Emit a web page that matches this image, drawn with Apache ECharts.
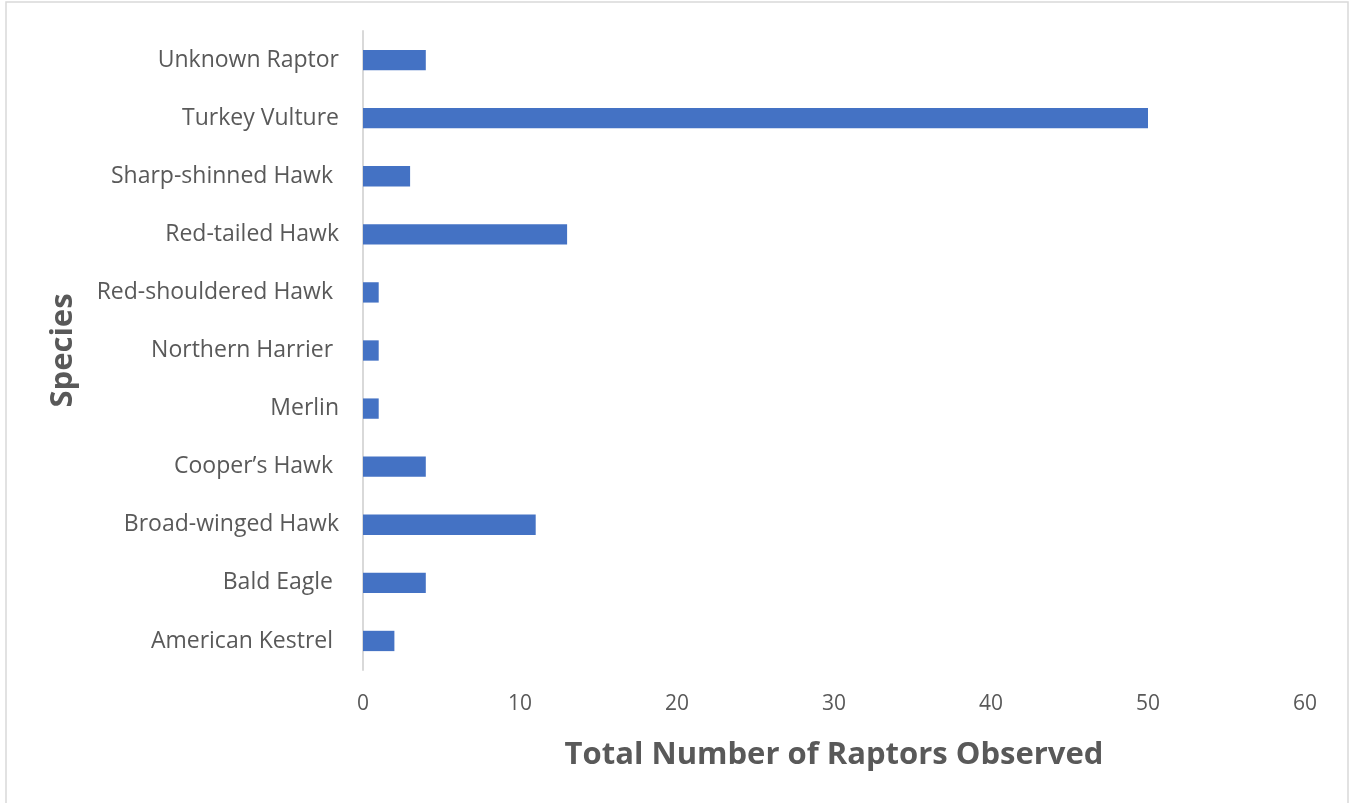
<!DOCTYPE html>
<html><head><meta charset="utf-8">
<script src="https://cdn.jsdelivr.net/npm/echarts@6/dist/echarts.min.js"></script>
<style>html,body{margin:0;padding:0;background:#fff}#c{width:1351px;height:803px}</style>
</head><body><div id="c"></div>
<script>
const categories = ["American Kestrel ", "Bald Eagle ", "Broad-winged Hawk", "Cooper\u2019s Hawk ", "Merlin", "Northern Harrier ", "Red-shouldered Hawk ", "Red-tailed Hawk", "Sharp-shinned Hawk ", "Turkey Vulture", "Unknown Raptor"];
const counts = [2, 4, 11, 4, 1, 1, 1, 13, 3, 50, 4];
const xTicks = [0, 10, 20, 30, 40, 50, 60];

const chart = echarts.init(document.getElementById('c'), null, {renderer: 'canvas'});
const font = 'Open Sans';
chart.setOption({
  animation: false,
  graphic: [{type: 'rect', shape: {x: 6, y: 2, width: 1342, height: 810}, style: {fill: 'none', stroke: '#d9d9d9', lineWidth: 1.5}, silent: true}],
  grid: {left: 363, right: 46, top: 31, bottom: 133, containLabel: false},
  xAxis: {
    type: 'value', min: xTicks[0], max: xTicks[xTicks.length - 1], interval: 10,
    axisLine: {show: false}, axisTick: {show: false}, splitLine: {show: false},
    axisLabel: {color: '#595959', fontFamily: font, fontSize: 21, margin: 24},
    name: 'Total Number of Raptors Observed', nameLocation: 'middle', nameGap: 70,
    nameTextStyle: {color: '#595959', fontFamily: font, fontSize: 31, fontWeight: 'bold'}
  },
  yAxis: {
    type: 'category', data: categories,
    axisLine: {show: true, lineStyle: {color: '#d9d9d9', width: 2}}, axisTick: {show: false},
    axisLabel: {color: '#595959', fontFamily: font, fontSize: 23, margin: 24},
    name: 'Species', nameLocation: 'middle', nameGap: 284, nameRotate: 90,
    nameTextStyle: {color: '#595959', fontFamily: font, fontSize: 31, fontWeight: 'bold'}
  },
  series: [{type: 'bar', data: counts, barWidth: '35%', itemStyle: {color: '#4472c4'}}]
});
</script></body></html>
